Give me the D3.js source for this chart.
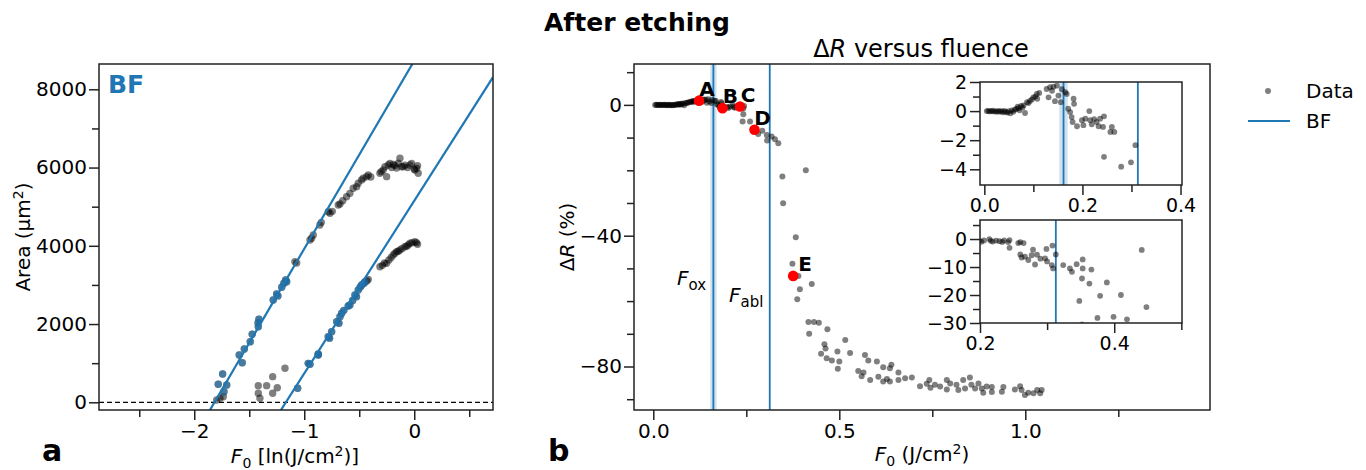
<!DOCTYPE html>
<html><head><meta charset="utf-8">
<script src="https://cdn.jsdelivr.net/npm/d3@7"></script>
<style>
body{margin:0;background:#fff;}
text{font-family:"DejaVu Sans",sans-serif;}
</style></head>
<body><svg id="c" width="1366" height="470"></svg>
<script>
// ---------- Panel a data: Area vs ln(F0) ----------
const upperFitX=[-1.782,-1.742,-1.705,-1.730,-1.564,-1.591,-1.545,-1.491,-1.473,-1.418,-1.412,-1.420,-1.282,-1.251,-1.240,-1.205,-1.185,-1.169,-1.160];
const upperFitY=[460,723,442,271,1012,1209,1362,1549,1738,1932,2121,2030,2615,2768,2720,2939,3041,3126,3080];
const upperX=[-1.796,-1.766,-1.736,-1.085,-1.069,-0.948,-0.933,-0.918,-0.858,-0.845,-0.782,-0.766,-0.745,-0.691,-0.675,-0.650,-0.615,-0.585,-0.555,-0.524,-0.509,-0.479,-0.464,-0.433,-0.418,-0.395,-0.312,-0.300,-0.282,-0.266,-0.251,-0.236,-0.221,-0.205,-0.190,-0.175,-0.160,-0.145,-0.130,-0.115,-0.100,-0.085,-0.060,-0.039,-0.024,0.000,0.006,0.022,0.036,0.030];
const upperY=[59,102,143,3594,3560,4147,4192,4276,4531,4600,4872,4831,4880,5043,5068,5150,5255,5341,5470,5512,5597,5682,5725,5768,5810,5760,5853,5895,5938,6022,5768,6065,6108,6000,6080,6050,5990,6110,6236,6020,6022,6060,6000,6065,6108,5960,5938,5981,5853,6050];
const lowerFitX=[-1.060,-0.964,-0.948,-0.873,-0.873,-0.782,-0.770,-0.751,-0.705,-0.685,-0.675,-0.660,-0.640,-0.600,-0.585,-0.560,-0.539,-0.525,-0.509,-0.490,-0.478,-0.457,-0.448];
const lowerFitY=[358,996,971,1234,1209,1677,1640,1805,2060,2019,2188,2275,2350,2461,2487,2600,2742,2700,2870,2950,2998,3041,3083];
const lowerX=[-0.430,-0.418,-0.312,-0.290,-0.270,-0.251,-0.230,-0.210,-0.191,-0.175,-0.160,-0.145,-0.130,-0.110,-0.085,-0.069,-0.055,-0.039,-0.020,0.006,0.020,0.030];
const lowerY=[3100,3143,3466,3500,3560,3552,3640,3700,3765,3808,3850,3860,3893,3930,3977,3990,4020,4064,4080,4105,4080,4040];
const strayX=[-1.418,-1.418,-1.403,-1.342,-1.287,-1.287,-1.245,-1.175];
const strayY=[425,230,102,425,655,230,373,869];
const bfThreshold=[-1.816,-1.167];   // x-intercepts of best fits
const bfSlope=[4808,4414];           // µm² per ln unit
const aXTicks=[-2,-1,0], aXMinor=[-2.5,-1.5,-0.5,0.5];
const aYTicks=[0,2000,4000,6000,8000], aYMinor=[1000,3000,5000,7000];

// ---------- Panel b data: ΔR vs F0 ----------
const lowF=[0.005,0.008,0.011,0.014,0.017,0.020,0.023,0.026,0.029,0.032,0.035,0.038,0.041,0.044,0.047,0.050,0.053,0.056,0.059,0.062,0.065,0.068,0.070,0.072,0.075,0.078,0.080,0.083,0.087,0.090,0.093,0.097,0.100,0.104,0.107,0.108,0.112,0.127,0.131,0.134,0.138,0.141,0.144,0.148,0.151,0.156,0.158,0.165,0.168,0.171,0.175,0.178,0.182,0.183,0.180,0.189,0.199,0.202,0.206,0.214,0.216,0.219,0.224,0.229,0.233,0.236,0.242,0.244];
const lowR=[0.0,0.02,-0.02,0.0,0.03,-0.03,0.0,-0.05,0.02,-0.04,0.0,-0.08,0.01,-0.06,-0.1,0.0,-0.15,0.05,-0.05,0.1,0.15,0.3,0.2,0.05,0.35,0.25,0.4,-0.13,0.61,0.55,0.7,0.8,0.95,1.0,1.18,0.85,1.25,1.52,0.95,1.64,1.4,1.68,0.68,1.75,1.07,0.61,1.5,1.3,1.18,0.16,-0.07,-0.41,0.85,0.5,-0.75,-1.04,-0.63,-0.97,-0.52,0.0,-0.63,-0.91,-0.55,-0.75,-1.04,-0.52,-1.09,-0.36];
const mainMidF=[0.242,0.240,0.260,0.282,0.293,0.305,0.306,0.318,0.327,0.336,0.347,0.410,0.349,0.383,0.374,0.390,0.426,0.394,0.387,0.417,0.432,0.445,0.419,0.468,0.460,0.463,0.516,0.451,0.466,0.480,0.495,0.529,0.500,0.496];
const mainMidR=[-2.9,-5.1,-5.1,-8.9,-7.9,-9.2,-10.9,-9.7,-10.5,-11.7,-21.9,-20.0,-30.1,-40.5,-48.6,-52.3,-54.8,-56.4,-59.4,-66.4,-66.4,-66.6,-70.0,-68.6,-73.2,-74.5,-71.9,-76.1,-77.5,-78.2,-75.4,-75.9,-78.5,-80.7];
const highF=[0.551,0.565,0.560,0.569,0.578,0.601,0.618,0.636,0.583,0.605,0.618,0.628,0.636,0.640,0.659,0.659,0.677,0.695,0.717,0.735,0.742,0.745,0.757,0.771,0.789,0.789,0.798,0.815,0.820,0.833,0.838,0.851,0.855,0.865,0.874,0.883,0.887,0.896,0.910,0.910,0.941,0.937,0.972,0.986,0.990,0.999,1.008,1.022,1.032,1.040,1.044];
const highR=[-81.4,-81.8,-83.0,-76.5,-78.2,-78.5,-80.2,-80.5,-84.1,-83.1,-84.6,-83.8,-84.6,-79.5,-81.8,-84.1,-83.6,-83.4,-86.0,-85.3,-84.1,-86.5,-85.6,-86.1,-84.1,-87.0,-85.2,-85.6,-87.2,-84.1,-86.7,-83.4,-85.6,-86.7,-85.2,-86.7,-88.0,-86.1,-86.3,-87.8,-86.3,-87.7,-87.0,-86.0,-87.2,-88.7,-88.0,-88.2,-87.2,-88.2,-87.2];
const insetMidF=[0.244,0.257,0.260,0.265,0.279,0.299,0.308,0.260,0.262,0.267,0.272,0.277,0.282,0.285,0.290,0.297,0.300,0.307,0.309,0.313,0.324,0.334,0.337,0.344,0.353,0.353,0.366,0.352,0.363,0.348,0.379,0.389,0.410,0.375,0.399,0.419,0.448,0.352,0.441];
const insetMidR=[-3.14,-1.43,-1.09,-1.43,-3.82,-3.52,-2.34,-5.5,-6.6,-6.3,-7.5,-5.8,-9.1,-5.6,-7.0,-6.9,-8.0,-9.3,-10.5,-5.5,-9.3,-10.5,-11.7,-9.0,-7.3,-10.5,-10.9,-14.1,-15.9,-22.1,-20.3,-15.5,-20.0,-28.2,-27.8,-28.7,-24.3,-30.5,-3.9];
const markF=[0.123,0.186,0.233,0.272,0.376];
const markR=[1.3,-1.0,-0.5,-7.6,-52.3];
const markLabels=["A","B","C","D","E"];
const fOx=0.1615, fOxBand=[0.153,0.170], fAbl=0.313;
const bXTicks=[0,0.5,1.0], bXMinor=[0.25,0.75,1.25];
const bYTicks=[0,-40,-80], bYMinor=[10,-10,-20,-30,-50,-60,-70,-90];
const i1XTicks=[0,0.2,0.4], i1XMinor=[0.1,0.3], i1YTicks=[2,0,-2,-4], i1YMinor=[1,-1,-3];
const i2XTicks=[0.2,0.4], i2XMinor=[0.3,0.5], i2YTicks=[0,-10,-20,-30], i2YMinor=[5,-5,-15,-25];
const legendLabels=["Data","BF"];

// ---------- drawing ----------
const svg=d3.select("#c");
const BLUE="#1f77b4";
const zip=(a,b)=>a.map((v,i)=>[v,b[i]]);
let clipId=0;

function panel(box,xd,yd,opt){
  const g=svg.append("g");
  const x=d3.scaleLinear().domain(xd).range([box.l,box.r]);
  const y=d3.scaleLinear().domain(yd).range([box.b,box.t]);
  const id="clip"+(clipId++);
  svg.append("clipPath").attr("id",id).append("rect")
    .attr("x",box.l).attr("y",box.t).attr("width",box.r-box.l).attr("height",box.b-box.t);
  const inner=g.append("g").attr("clip-path",`url(#${id})`);
  const fs=opt.fs||20;
  const xa=g.append("g").attr("transform",`translate(0,${box.b})`)
    .call(d3.axisBottom(x).tickValues(opt.xt).tickFormat(opt.xf).tickSize(10).tickPadding(opt.xpad||4));
  const xm=g.append("g").attr("transform",`translate(0,${box.b})`)
    .call(d3.axisBottom(x).tickValues(opt.xm).tickFormat("").tickSize(opt.minor||7));
  const ya=g.append("g").attr("transform",`translate(${box.l},0)`)
    .call(d3.axisLeft(y).tickValues(opt.yt).tickFormat(opt.yf).tickSize(10).tickPadding(opt.ypad||2));
  const ym=g.append("g").attr("transform",`translate(${box.l},0)`)
    .call(d3.axisLeft(y).tickValues(opt.ym).tickFormat("").tickSize(opt.minor||7));
  [xa,xm,ya,ym].forEach(a=>{
    a.select(".domain").remove();
    a.selectAll("line").attr("stroke","#222").attr("stroke-width",1.5);
    a.selectAll("text").attr("font-size",fs).attr("fill","#000").attr("font-family","DejaVu Sans");
  });
  g.append("rect").attr("x",box.l).attr("y",box.t).attr("width",box.r-box.l).attr("height",box.b-box.t)
    .attr("fill","none").attr("stroke","#222").attr("stroke-width",1.5);
  return {g,inner,x,y};
}

// ---------- Panel a ----------
const A=panel({l:99,r:493,t:64,b:410},[-2.866,0.716],[-197,8647],
  {xt:aXTicks,xm:aXMinor,yt:aYTicks,ym:aYMinor,xf:d3.format("d"),yf:d3.format("d")});
A.inner.append("line").attr("x1",A.x.range()[0]).attr("x2",A.x.range()[1])
  .attr("y1",A.y(0)).attr("y2",A.y(0)).attr("stroke","#000").attr("stroke-width",1.2).attr("stroke-dasharray","5,3");
const grayPts=[...zip(upperX,upperY),...zip(lowerX,lowerY),...zip(strayX,strayY),...zip(upperFitX,upperFitY),...zip(lowerFitX,lowerFitY)];
A.inner.selectAll("circle.g").data(grayPts).join("circle").attr("class","g")
  .attr("cx",d=>A.x(d[0])).attr("cy",d=>A.y(d[1])).attr("r",3.7).attr("fill","#000").attr("fill-opacity",0.5);
const bluePts=[...zip(upperFitX,upperFitY),...zip(lowerFitX,lowerFitY)];
A.inner.selectAll("circle.b").data(bluePts).join("circle").attr("class","b")
  .attr("cx",d=>A.x(d[0])).attr("cy",d=>A.y(d[1])).attr("r",3.7).attr("fill",BLUE).attr("fill-opacity",0.6);
bfThreshold.forEach((x0,i)=>{
  const xd=A.x.domain();
  A.inner.append("line").attr("x1",A.x(xd[0])).attr("y1",A.y(bfSlope[i]*(xd[0]-x0)))
    .attr("x2",A.x(xd[1])).attr("y2",A.y(bfSlope[i]*(xd[1]-x0)))
    .attr("stroke",BLUE).attr("stroke-width",2.2);
});
svg.append("text").attr("x",108).attr("y",93).attr("font-size",25).attr("font-weight","bold").attr("fill",BLUE).text("BF");
svg.append("text").attr("transform","translate(30,237) rotate(-90)").attr("text-anchor","middle").attr("font-size",20)
  .html('Area (μm<tspan dy="-7" font-size="14">2</tspan><tspan dy="7">)</tspan>');
svg.append("text").attr("x",295).attr("y",463).attr("text-anchor","middle").attr("font-size",20)
  .html('<tspan font-style="italic">F</tspan><tspan dy="5" font-size="14">0</tspan><tspan dy="-5"> [ln(J/cm</tspan><tspan dy="-7" font-size="14">2</tspan><tspan dy="7">)]</tspan>');
svg.append("text").attr("x",42).attr("y",461).attr("font-size",30).attr("font-weight","bold").text("a");

// ---------- Panel b ----------
const B=panel({l:634,r:1210,t:64,b:410},[-0.0519,1.4965],[-93.3,12.5],
  {xt:bXTicks,xm:bXMinor,yt:bYTicks,ym:bYMinor,xf:d3.format(".1f"),yf:d3.format("d")});
function vlines(P){
  const [yb,yt]=P.y.range();
  P.inner.append("rect").attr("x",P.x(fOxBand[0])).attr("width",P.x(fOxBand[1])-P.x(fOxBand[0]))
    .attr("y",yt).attr("height",yb-yt).attr("fill",BLUE).attr("fill-opacity",0.22);
  [fOx,fAbl].forEach(v=>P.inner.append("line").attr("x1",P.x(v)).attr("x2",P.x(v)).attr("y1",yt).attr("y2",yb)
    .attr("stroke",BLUE).attr("stroke-width",1.8));
}
function dots(P,pts,r){
  P.inner.append("g").selectAll("circle").data(pts).join("circle")
    .attr("cx",d=>P.x(d[0])).attr("cy",d=>P.y(d[1])).attr("r",r).attr("fill","#000").attr("fill-opacity",0.5);
}
vlines(B);
dots(B,[...zip(lowF,lowR),...zip(mainMidF,mainMidR),...zip(highF,highR)],3);
B.inner.selectAll("circle.m").data(zip(markF,markR)).join("circle").attr("class","m")
  .attr("cx",d=>B.x(d[0])).attr("cy",d=>B.y(d[1])).attr("r",5.3).attr("fill","#ff0000");
svg.append("g").selectAll("text").data(markLabels).join("text")
  .attr("x",(d,i)=>B.x(markF[i])+(i==4?12:8)).attr("y",(d,i)=>B.y(markR[i])-12)
  .attr("text-anchor","middle").attr("dominant-baseline","central")
  .attr("font-size",20).attr("font-weight","bold").text(d=>d);
svg.append("text").attr("x",677).attr("y",285).attr("font-size",20)
  .html('<tspan font-style="italic">F</tspan><tspan dy="5" font-size="15">ox</tspan>');
svg.append("text").attr("x",729).attr("y",302).attr("font-size",20)
  .html('<tspan font-style="italic">F</tspan><tspan dy="5" font-size="15">abl</tspan>');
svg.append("text").attr("transform","translate(574,237) rotate(-90)").attr("text-anchor","middle").attr("font-size",20)
  .html('Δ<tspan font-style="italic">R</tspan> (%)');
svg.append("text").attr("x",922).attr("y",461).attr("text-anchor","middle").attr("font-size",20)
  .html('<tspan font-style="italic">F</tspan><tspan dy="5" font-size="14">0</tspan><tspan dy="-5"> (J/cm</tspan><tspan dy="-7" font-size="14">2</tspan><tspan dy="7">)</tspan>');
svg.append("text").attr("x",921).attr("y",57).attr("text-anchor","middle").attr("font-size",24)
  .html('Δ<tspan font-style="italic">R</tspan> versus fluence');
svg.append("text").attr("x",548).attr("y",461).attr("font-size",30).attr("font-weight","bold").text("b");
svg.append("text").attr("x",637).attr("y",31).attr("text-anchor","middle").attr("font-size",25).attr("font-weight","bold").text("After etching");

// ---------- Insets ----------
const insetPts=[...zip(lowF,lowR),...zip(insetMidF,insetMidR)];
const I1=panel({l:980,r:1182,t:82,b:185},[-0.0088,0.403],[-5.08,2.0],
  {xt:i1XTicks,xm:i1XMinor,yt:i1YTicks,ym:i1YMinor,xf:d3.format(".1f"),yf:d3.format("d"),fs:19,ypad:3,xpad:4});
vlines(I1); dots(I1,insetPts,2.9);
const I2=panel({l:980,r:1182,t:220,b:323},[0.2,0.501],[-30,6.8],
  {xt:i2XTicks,xm:i2XMinor,yt:i2YTicks,ym:i2YMinor,xf:d3.format(".1f"),yf:d3.format("d"),fs:19,ypad:3,xpad:4});
vlines(I2); dots(I2,insetPts,2.9);

// ---------- Legend ----------
const lg=svg.append("g");
lg.append("circle").attr("cx",1268).attr("cy",91).attr("r",3).attr("fill","#000").attr("fill-opacity",0.5);
lg.append("line").attr("x1",1248).attr("x2",1290).attr("y1",121).attr("y2",121).attr("stroke",BLUE).attr("stroke-width",2);
lg.selectAll("text").data(legendLabels).join("text").attr("x",1306).attr("y",(d,i)=>91+i*30)
  .attr("dominant-baseline","central").attr("font-size",20).text(d=>d);
</script></body></html>
